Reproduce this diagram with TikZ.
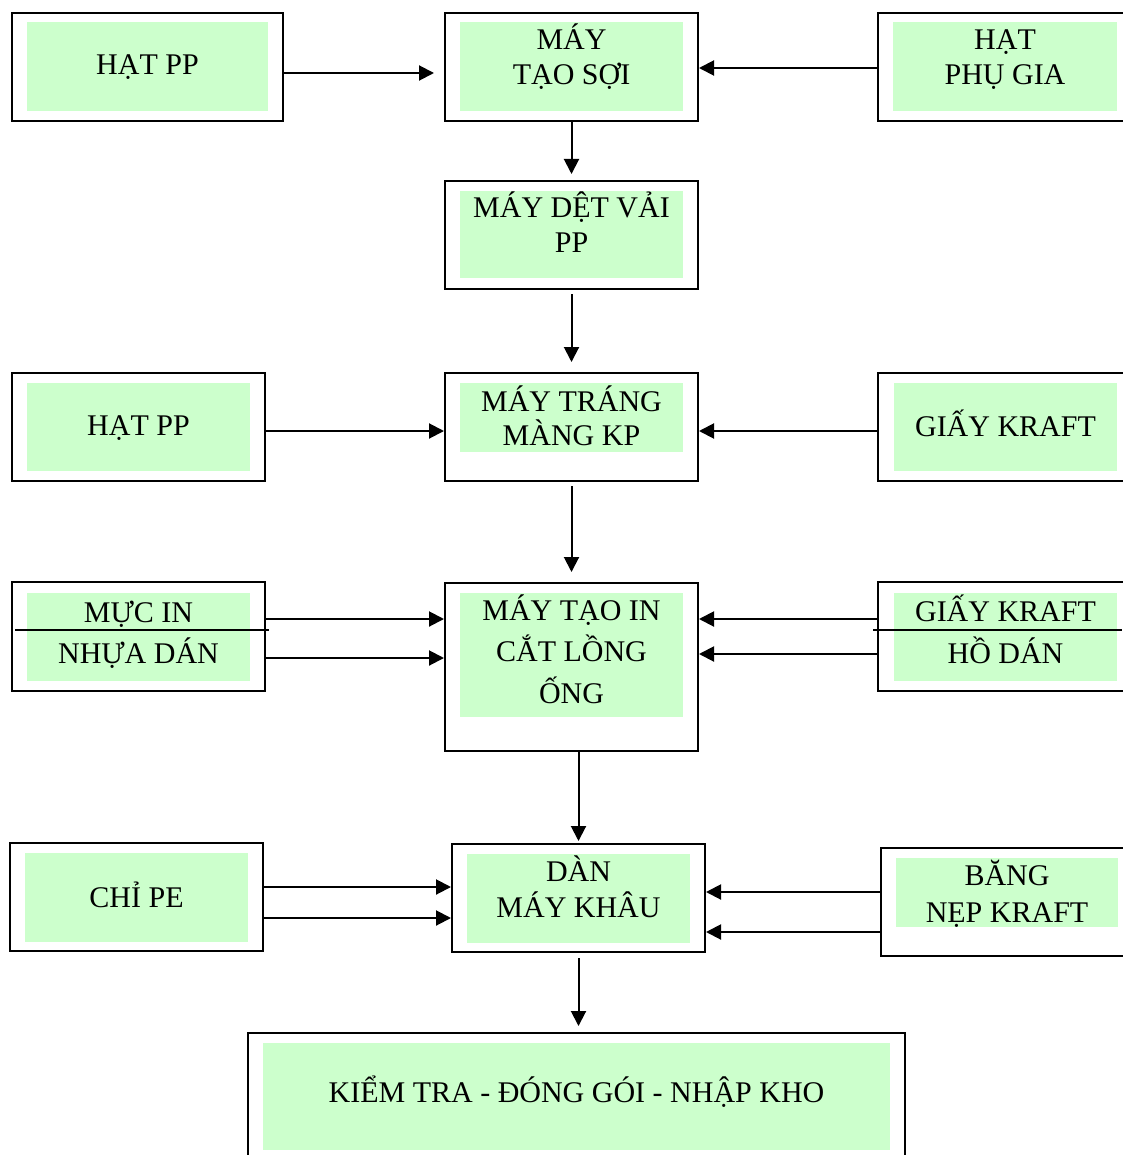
\documentclass[tikz,border=0pt]{standalone}
\usepackage{fontspec}
\setmainfont{Liberation Serif}
\usetikzlibrary{arrows.meta}
\definecolor{lgreen}{HTML}{CCFFCC}
\tikzset{
  outerbox/.style={draw, line width=2pt, inner sep=0pt, fill=none},
  greenbox/.style={fill=lgreen, draw=none, inner sep=0pt},
  lbl/.style={font=\fontsize{30}{35}\selectfont, inner sep=0pt, anchor=base},
  arr/.style={line width=2pt, -{Triangle[length=15pt,width=15pt]}},
  divider/.style={line width=2pt}
}
\begin{document}
\begin{tikzpicture}[x=1pt,y=-1pt]
\useasboundingbox (0,0) rectangle (1122,1155);
% outer boxes
\node[outerbox, minimum width=271pt, minimum height=108pt] (a1) at (147.5,67) {};
\node[outerbox, minimum width=253pt, minimum height=108pt] (b1) at (571.5,67) {};
\node[outerbox, minimum width=259pt, minimum height=108pt] (c1) at (1007.5,67) {};
\node[outerbox, minimum width=253pt, minimum height=108pt] (b2) at (571.5,235) {};
\node[outerbox, minimum width=253pt, minimum height=108pt] (a3) at (138.5,427) {};
\node[outerbox, minimum width=253pt, minimum height=108pt] (b3) at (571.5,427) {};
\node[outerbox, minimum width=259pt, minimum height=108pt] (c3) at (1007.5,427) {};
\node[outerbox, minimum width=253pt, minimum height=109pt] (a4) at (138.5,636.5) {};
\node[outerbox, minimum width=253pt, minimum height=168pt] (b4) at (571.5,667) {};
\node[outerbox, minimum width=259pt, minimum height=109pt] (c4) at (1007.5,636.5) {};
\node[outerbox, minimum width=253pt, minimum height=108pt] (a5) at (136.5,897) {};
\node[outerbox, minimum width=253pt, minimum height=108pt] (b5) at (578.5,898) {};
\node[outerbox, minimum width=259pt, minimum height=108pt] (c5) at (1010.5,902) {};
\node[outerbox, minimum width=657pt, minimum height=132pt] (d) at (576.5,1099) {};
% green panels
\node[greenbox, minimum width=241pt, minimum height=89pt] (ga1) at (147.5,66.5) {};
\node[greenbox, minimum width=223pt, minimum height=89pt] (gb1) at (571.5,66.5) {};
\node[greenbox, minimum width=224pt, minimum height=89pt] (gc1) at (1005,66.5) {};
\node[greenbox, minimum width=223pt, minimum height=87pt] (gb2) at (571.5,234.5) {};
\node[greenbox, minimum width=223pt, minimum height=88pt] (ga3) at (138.5,427) {};
\node[greenbox, minimum width=223pt, minimum height=69pt] (gb3) at (571.5,417.5) {};
\node[greenbox, minimum width=223pt, minimum height=88pt] (gc3) at (1005.5,427) {};
\node[greenbox, minimum width=223pt, minimum height=88pt] (ga4) at (138.5,637) {};
\node[greenbox, minimum width=223pt, minimum height=124pt] (gb4) at (571.5,655) {};
\node[greenbox, minimum width=223pt, minimum height=88pt] (gc4) at (1005.5,637) {};
\node[greenbox, minimum width=223pt, minimum height=89pt] (ga5) at (136.5,897.5) {};
\node[greenbox, minimum width=223pt, minimum height=89pt] (gb5) at (578.5,898.5) {};
\node[greenbox, minimum width=222pt, minimum height=69pt] (gc5) at (1007,892.5) {};
\node[greenbox, minimum width=627pt, minimum height=107pt] (gd) at (576.5,1096.5) {};
% labels
\node[lbl] (ta1) at (147.5,75) {HẠT PP};
\node[lbl] (tb1a) at (571.5,50) {MÁY};
\node[lbl] (tb1b) at (571.5,85) {TẠO SỢI};
\node[lbl] (tc1a) at (1005,50) {HẠT};
\node[lbl] (tc1b) at (1005,85) {PHỤ GIA};
\node[lbl] (tb2a) at (571.5,218) {MÁY DỆT VẢI};
\node[lbl] (tb2b) at (571.5,253) {PP};
\node[lbl] (ta3) at (138.5,435) {HẠT PP};
\node[lbl] (tb3a) at (571.5,411) {MÁY TRÁNG};
\node[lbl] (tb3b) at (571.5,445) {MÀNG KP};
\node[lbl] (tc3) at (1005.5,436) {GIẤY KRAFT};
\node[lbl] (ta4a) at (138.5,622) {MỰC IN};
\node[lbl] (ta4b) at (138.5,663) {NHỰA DÁN};
\node[lbl] (tb4a) at (571.5,620) {MÁY TẠO IN};
\node[lbl] (tb4b) at (571.5,661) {CẮT LỒNG};
\node[lbl] (tb4c) at (571.5,703) {ỐNG};
\node[lbl] (tc4a) at (1005.5,621) {GIẤY KRAFT};
\node[lbl] (tc4b) at (1005.5,663) {HỒ DÁN};
\node[lbl] (ta5) at (136.5,907) {CHỈ PE};
\node[lbl] (tb5a) at (578.5,881) {DÀN};
\node[lbl] (tb5b) at (578.5,917) {MÁY KHÂU};
\node[lbl] (tc5a) at (1007,885) {BĂNG};
\node[lbl] (tc5b) at (1007,922) {NẸP KRAFT};
\node[lbl] (td) at (576.5,1102) {KIỂM TRA - ĐÓNG GÓI - NHẬP KHO};
% divider lines
\coordinate (la4s) at (15,630);
\coordinate (la4e) at (269,630);
\draw[divider] (la4s) -- (la4e);
\coordinate (lc4s) at (873,630);
\coordinate (lc4e) at (1122,630);
\draw[divider] (lc4s) -- (lc4e);
% connectors row 1
\draw[arr] ([yshift=-6pt]a1.east) -- ([xshift=-10pt,yshift=-6pt]b1.west);
\draw[arr] ([yshift=-1pt]c1.west) -- ([yshift=-1pt]b1.east);
\draw[arr] (b1.south) -- ([yshift=6pt]b2.north);
\draw[arr] ([yshift=-4pt]b2.south) -- ([yshift=10pt]b3.north);
% row 2
\draw[arr] ([yshift=-4pt]a3.east) -- ([yshift=-4pt]b3.west);
\draw[arr] ([yshift=-4pt]c3.west) -- ([yshift=-4pt]b3.east);
\draw[arr] ([yshift=-4pt]b3.south) -- ([yshift=10pt]b4.north);
% row 3
\coordinate (p1) at ([yshift=17.5pt]a4.east);
\coordinate (p2) at ([yshift=-21.5pt]a4.east);
\coordinate (p3) at ([yshift=17.5pt]c4.west);
\coordinate (p4) at ([yshift=-17.5pt]c4.west);
\draw[arr] (p1) -- (p1 -| b4.west);
\draw[arr] (p2) -- (p2 -| b4.west);
\draw[arr] (p3) -- (p3 -| b4.east);
\draw[arr] (p4) -- (p4 -| b4.east);
\coordinate (p5) at ([yshift=2pt]b5.north);
\draw[arr] (b5.north |- b4.south) -- (p5);
% row 4
\coordinate (q1) at ([yshift=10pt]a5.east);
\coordinate (q2) at ([yshift=-21pt]a5.east);
\coordinate (q3) at ([yshift=10pt]c5.west);
\coordinate (q4) at ([yshift=-30pt]c5.west);
\draw[arr] (q1) -- (q1 -| b5.west);
\draw[arr] (q2) -- (q2 -| b5.west);
\draw[arr] (q3) -- (q3 -| b5.east);
\draw[arr] (q4) -- (q4 -| b5.east);
\coordinate (q5) at ([yshift=6pt]d.north);
\draw[arr] ([yshift=-5pt]b5.south) -- (q5 -| b5.south);
\end{tikzpicture}
\end{document}
